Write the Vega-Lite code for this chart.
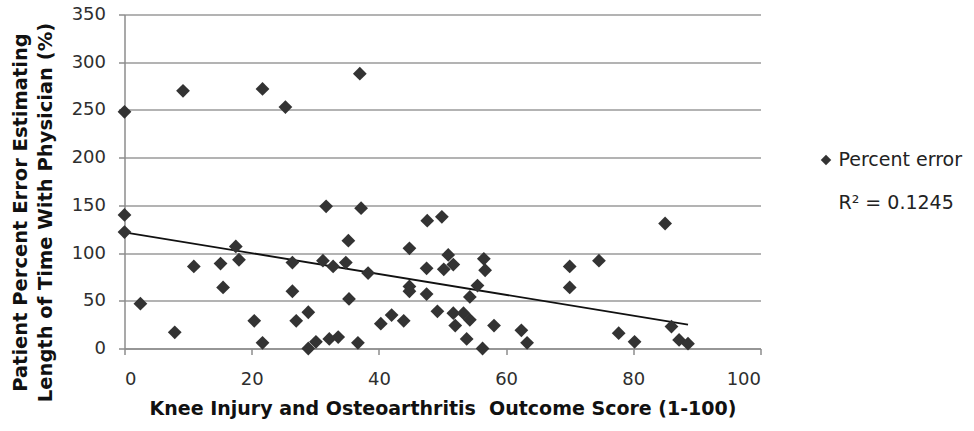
{
  "$schema": "https://vega.github.io/schema/vega-lite/v6.json",
  "autosize": "none",
  "width": 636,
  "height": 334,
  "padding": {"left": 124.5, "top": 14.5, "right": 213.5, "bottom": 82.5},
  "background": "white",
  "config": {
    "view": {"stroke": null},
    "font": "DejaVu Sans",
    "axis": {
      "labelFont": "DejaVu Sans",
      "labelFontSize": 18,
      "labelColor": "#2e2e2e",
      "titleFont": "DejaVu Sans",
      "titleFontSize": 20,
      "titleFontWeight": "bold",
      "titleColor": "#111111",
      "domainColor": "#8c8c8c",
      "domainWidth": 1.5,
      "tickColor": "#8c8c8c",
      "tickWidth": 1.5,
      "tickSize": 6
    },
    "legend": {
      "labelFont": "DejaVu Sans",
      "labelFontSize": 19,
      "labelColor": "#222222",
      "padding": 0
    }
  },
  "datasets": {
    "points": [
      {"koos": 0, "err": 248}, {"koos": 9.2, "err": 270}, {"koos": 21.7, "err": 272}, {"koos": 25.3, "err": 253}, {"koos": 37.0, "err": 288},
      {"koos": 0, "err": 140}, {"koos": 0, "err": 122}, {"koos": 2.5, "err": 47}, {"koos": 7.9, "err": 17}, {"koos": 10.9, "err": 86},
      {"koos": 15.1, "err": 89}, {"koos": 15.5, "err": 64}, {"koos": 17.5, "err": 107}, {"koos": 18.0, "err": 93}, {"koos": 20.4, "err": 29},
      {"koos": 21.7, "err": 6}, {"koos": 26.4, "err": 90}, {"koos": 26.4, "err": 60}, {"koos": 27.0, "err": 29}, {"koos": 28.9, "err": 38},
      {"koos": 28.9, "err": 0}, {"koos": 30.1, "err": 7}, {"koos": 31.7, "err": 149}, {"koos": 31.2, "err": 92}, {"koos": 32.2, "err": 10},
      {"koos": 32.8, "err": 86}, {"koos": 33.6, "err": 12}, {"koos": 34.8, "err": 90}, {"koos": 35.2, "err": 113}, {"koos": 35.3, "err": 52},
      {"koos": 37.2, "err": 147}, {"koos": 36.7, "err": 6}, {"koos": 38.3, "err": 79}, {"koos": 40.3, "err": 26}, {"koos": 42.0, "err": 35},
      {"koos": 43.9, "err": 29}, {"koos": 44.8, "err": 105}, {"koos": 44.8, "err": 65}, {"koos": 44.8, "err": 60}, {"koos": 47.6, "err": 134},
      {"koos": 47.5, "err": 84}, {"koos": 47.5, "err": 57}, {"koos": 49.9, "err": 138}, {"koos": 50.9, "err": 98}, {"koos": 50.2, "err": 83},
      {"koos": 51.7, "err": 88}, {"koos": 49.2, "err": 39}, {"koos": 51.7, "err": 37}, {"koos": 52.0, "err": 24}, {"koos": 53.3, "err": 37},
      {"koos": 54.3, "err": 30}, {"koos": 53.8, "err": 10}, {"koos": 54.3, "err": 54}, {"koos": 55.5, "err": 66}, {"koos": 56.5, "err": 94},
      {"koos": 56.7, "err": 82}, {"koos": 56.3, "err": 0}, {"koos": 58.1, "err": 24}, {"koos": 62.4, "err": 19}, {"koos": 63.3, "err": 6},
      {"koos": 70.0, "err": 86}, {"koos": 70.0, "err": 64}, {"koos": 74.6, "err": 92}, {"koos": 77.7, "err": 16}, {"koos": 80.2, "err": 7},
      {"koos": 85.0, "err": 131}, {"koos": 86.0, "err": 23}, {"koos": 87.2, "err": 9}, {"koos": 88.6, "err": 5}
    ],
    "trend": [
      {"koos": 0, "err": 121.8},
      {"koos": 88.6, "err": 25.0}
    ]
  },
  "layer": [
    {
      "data": {"name": "trend"},
      "mark": {"type": "line", "color": "#111111", "strokeWidth": 1.8},
      "encoding": {
        "x": {"field": "koos", "type": "quantitative", "scale": {"domain": [0, 100], "nice": false}},
        "y": {"field": "err", "type": "quantitative", "scale": {"domain": [0, 350], "nice": false}}
      }
    },
    {
      "data": {"name": "points"},
      "transform": [{"calculate": "'Percent error'", "as": "series"}],
      "mark": {"type": "point", "filled": true, "color": "#333333", "opacity": 1, "size": 190, "clip": false},
      "encoding": {
        "x": {
          "field": "koos", "type": "quantitative",
          "scale": {"domain": [0, 100], "nice": false},
          "axis": {
            "values": [0, 20, 40, 60, 80, 100],
            "grid": false,
            "labelPadding": 16,
            "title": "Knee Injury and Osteoarthritis\u00a0 Outcome Score (1-100)",
            "titleY": 60,
            "titleBaseline": "middle",
            "titleFontSize": 19
          }
        },
        "y": {
          "field": "err", "type": "quantitative",
          "scale": {"domain": [0, 350], "nice": false},
          "axis": {
            "values": [0, 50, 100, 150, 200, 250, 300, 350],
            "grid": true,
            "gridColor": "#9a9a9a",
            "gridWidth": 1.5,
            "labelPadding": 13,
            "title": ["Patient Percent Error Estimating", "Length of Time With Physician (%)"],
            "titleX": -113,
            "titleY": 197.5,
            "titleBaseline": "top",
            "titleFontSize": 19.5,
            "titleLineHeight": 25
          }
        },
        "shape": {
          "field": "series", "type": "nominal",
          "scale": {"domain": ["Percent error", "R² = 0.1245"], "range": ["diamond", "M0,0"]},
          "legend": {
            "title": null,
            "orient": "none",
            "legendX": 692,
            "legendY": 136,
            "symbolSize": 110,
            "symbolFillColor": "#333333",
            "symbolStrokeWidth": 0,
            "labelOffset": 3,
            "rowPadding": 23
          }
        }
      }
    }
  ]
}
